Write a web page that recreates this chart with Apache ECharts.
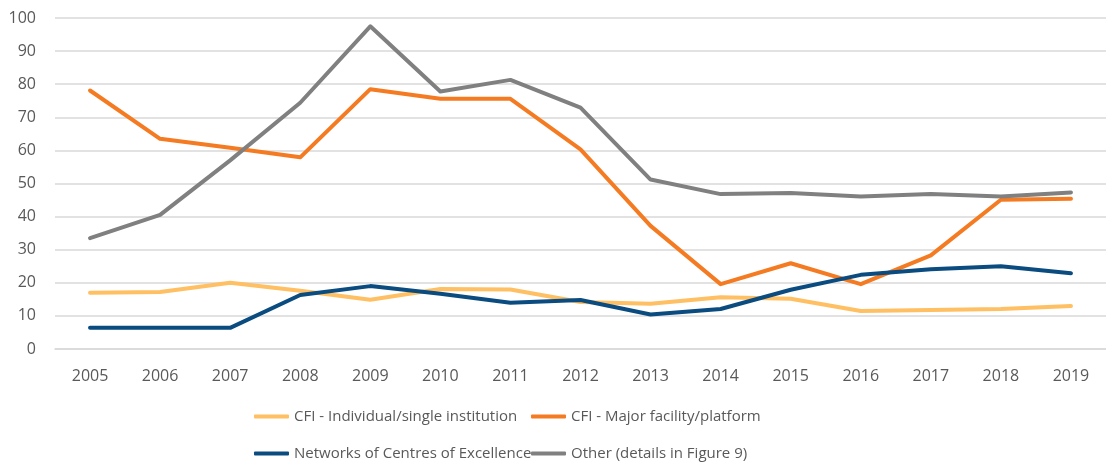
<!DOCTYPE html>
<html>
<head>
<meta charset="utf-8">
<script src="https://cdn.jsdelivr.net/npm/echarts@6/dist/echarts.min.js"></script>
<style>
  html, body { margin: 0; padding: 0; background: #fff; }
  #main { width: 1106px; height: 462px; }
</style>
</head>
<body>
<div id="main"></div>
<script>
var years = ['2005', '2006', '2007', '2008', '2009', '2010', '2011', '2012', '2013', '2014', '2015', '2016', '2017', '2018', '2019'];
var cfiIndividual = [17, 17.2, 20, 17.6, 14.9, 18.1, 18, 14.2, 13.7, 15.6, 15.2, 11.5, 11.8, 12.1, 13];
var cfiMajor = [78.1, 63.5, 60.8, 57.9, 78.5, 75.6, 75.6, 60.3, 37.2, 19.6, 25.9, 19.6, 28.3, 45.1, 45.4];
var networks = [6.4, 6.4, 6.4, 16.3, 19, 16.7, 14, 14.8, 10.4, 12.1, 17.9, 22.4, 24.1, 25, 22.9];
var other = [33.5, 40.5, 57, 74.4, 97.5, 77.8, 81.3, 72.9, 51.2, 46.8, 47.1, 46.1, 46.8, 46.1, 47.3];

var chart = echarts.init(document.getElementById('main'), null, { renderer: 'canvas' });

var font = '"Open Sans", sans-serif';

function lineSeries(name, data, color) {
  return {
    name: name,
    type: 'line',
    data: data,
    symbol: 'none',
    lineStyle: { width: 4, color: color, cap: 'round', join: 'round' },
    itemStyle: { color: color },
    animation: false
  };
}

// one legend per entry so the 2x2 layout lines up like the original
function legendItem(name, left, top) {
  return {
    data: [name],
    left: left,
    top: top,
    padding: 0,
    itemWidth: 35,
    itemHeight: 4,
    icon: 'roundRect',
    textStyle: { color: '#595959', fontSize: 15, fontFamily: font }
  };
}

chart.setOption({
  animation: false,
  grid: { left: 55, right: -8, top: 18, bottom: 113, containLabel: false },
  legend: [
    legendItem('CFI - Individual/single institution', 254, 409),
    legendItem('CFI - Major facility/platform', 531, 409),
    legendItem('Networks of Centres of Excellence', 254, 446),
    legendItem('Other (details in Figure 9)', 531, 446)
  ],
  xAxis: {
    type: 'category',
    data: years,
    boundaryGap: true,
    axisLine: { show: true, lineStyle: { color: '#D9D9D9', width: 1.5 } },
    axisTick: { show: false },
    axisLabel: { color: '#595959', fontSize: 16, fontFamily: font, margin: 19 }
  },
  yAxis: {
    type: 'value',
    min: 0,
    max: 100,
    interval: 10,
    axisLine: { show: false },
    axisTick: { show: false },
    axisLabel: { color: '#595959', fontSize: 16, fontFamily: font, margin: 19 },
    splitLine: { lineStyle: { color: '#D9D9D9', width: 1.5 } }
  },
  series: [
    lineSeries('CFI - Individual/single institution', cfiIndividual, '#FFBF63'),
    lineSeries('CFI - Major facility/platform', cfiMajor, '#F47B22'),
    lineSeries('Networks of Centres of Excellence', networks, '#0A4B80'),
    lineSeries('Other (details in Figure 9)', other, '#808080')
  ]
});
</script>
</body>
</html>
